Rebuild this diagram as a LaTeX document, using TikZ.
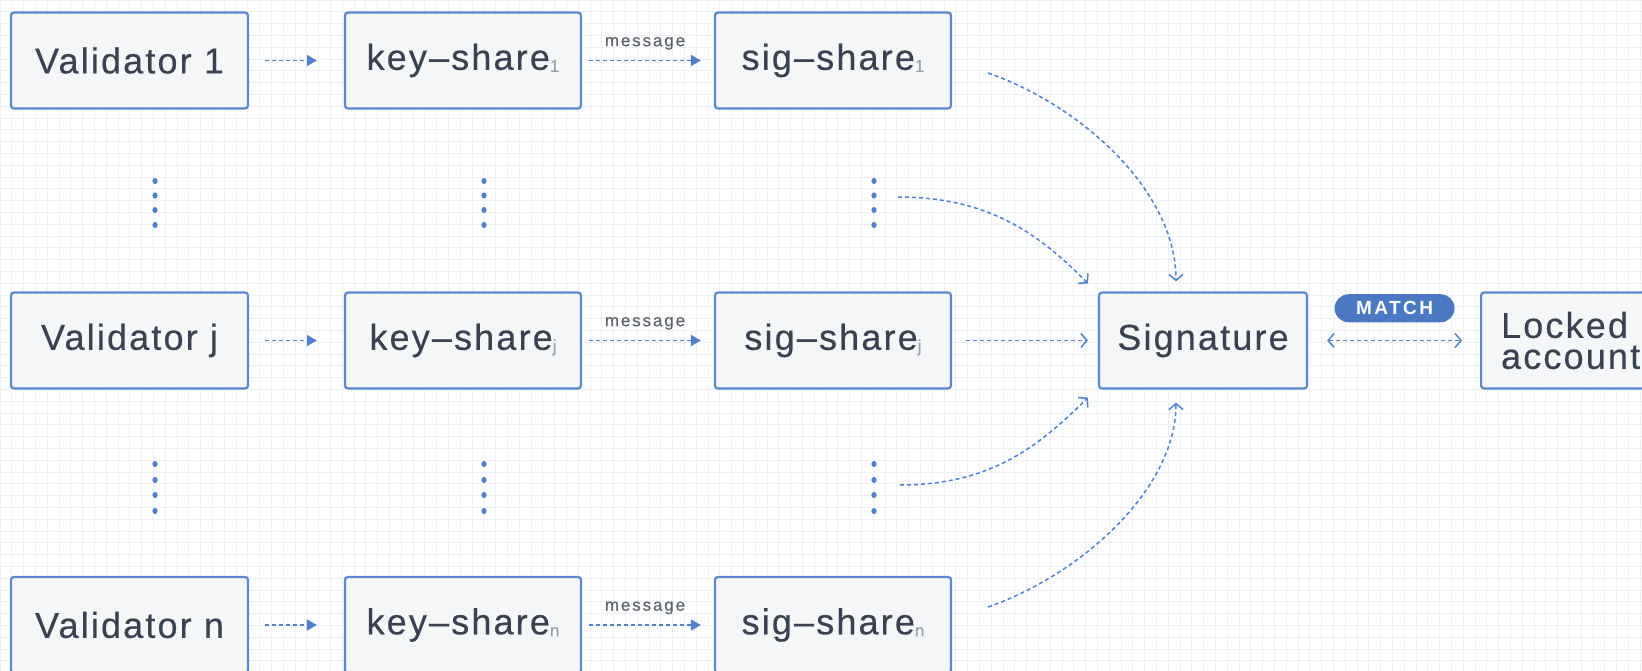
\documentclass[tikz,border=0pt]{standalone}
\usepackage{fontspec}
\setmainfont{Liberation Sans}
\newfontfamily\mainf{Liberation Sans}[LetterSpace=6, FakeBold=0.35]
\newfontfamily\msgf{Liberation Sans}[LetterSpace=11, FakeBold=0.3]
\newfontfamily\matchf{Liberation Sans}[LetterSpace=13]
\usetikzlibrary{arrows.meta}
\definecolor{boxblue}{HTML}{5A88CF}
\definecolor{boxfill}{HTML}{F5F6F8}
\definecolor{lineblue}{HTML}{4F80CC}
\definecolor{txt}{HTML}{3A4150}
\definecolor{subg}{HTML}{9AA0AA}
\definecolor{msgc}{HTML}{5F646E}
\definecolor{gridc}{HTML}{EDF0F5}
\definecolor{pillc}{HTML}{4A78C2}
\newcommand{\subidx}[1]{{\color{subg}\fontsize{17}{17}\selectfont\raisebox{-2pt}{#1}}}
\begin{document}
\begin{tikzpicture}[x=1pt,y=-1pt,
  box/.style={draw=boxblue, line width=2.2pt, fill=boxfill, rounded corners=3pt,
    minimum height=96pt, inner sep=0pt, text=txt, font=\mainf\fontsize{36}{31}\selectfont},
  vbox/.style={box, minimum width=237pt},
  sbox/.style={box, minimum width=236pt},
  flow/.style={draw=lineblue, line width=1.5pt, dash pattern=on 4pt off 3pt},
  tri/.style={flow, -{Triangle[length=10pt,width=11pt]}},
  open/.style={flow, -{Straight Barb[length=6pt,width=14pt]}},
  both/.style={flow, {Straight Barb[length=6pt,width=14pt]}-{Straight Barb[length=6pt,width=14pt]}},
  msg/.style={font=\msgf\fontsize{17}{17}\selectfont, text=msgc, inner sep=0pt},
  pill/.style={fill=pillc, rounded corners=14pt, minimum width=120pt, minimum height=28pt,
    inner sep=0pt, text=white, font=\matchf\bfseries\fontsize{19}{19}\selectfont},
  dotc/.style={fill=lineblue}
]
\useasboundingbox (0,0) rectangle (1642,671);
\fill[white] (0,0) rectangle (1642,671);
\draw[gridc, line width=0.8pt] (0,0) grid[step=11.8pt] (1642,671);

% row 1
\node[vbox] (v1) at (129.5,60.5) {Validator 1};
\node[sbox] (k1) at (463,60.5) {key\textendash share\subidx{1}};
\node[sbox] (s1) at (833,60.5) {sig\textendash share\subidx{1}};
% row j
\node[vbox] (vj) at (129.5,340.5) {Validator j};
\node[sbox] (kj) at (463,340.5) {key\textendash share\subidx{j}};
\node[sbox] (sj) at (833,340.5) {sig\textendash share\subidx{j}};
% row n
\node[vbox] (vn) at (129.5,625) {Validator n};
\node[sbox] (kn) at (463,625) {key\textendash share\subidx{n}};
\node[sbox] (sn) at (833,625) {sig\textendash share\subidx{n}};

\node[box, minimum width=208pt] (sig) at (1203,340.5) {Signature};
\node[box, anchor=west, align=left, text width=190pt, inner xsep=20pt] (lock) at (1480,340.5) {Locked\\account};

% vertical dots
\foreach \x in {155,484,874}{
  \foreach \y in {181,195.5,210,225,464,480,495,511}{
    \fill[dotc] (\x,\y) ellipse [x radius=2.6pt, y radius=3pt];
  }
}
\coordinate (ca) at (898,197);
\coordinate (cb) at (900,485);

% straight row arrows
\foreach \r in {1,j,n}{
  \draw[tri] ([xshift=16pt]v\r.east) -- ([xshift=-27pt]k\r.west);
  \draw[tri] ([xshift=7pt]k\r.east) -- node[msg, above=10pt] {message} ([xshift=-13pt]s\r.west);
}
\draw[open] ([xshift=14pt]sj.east) -- ([xshift=-10pt]sig.west);

% curved arrows
\draw[open] ([shift={(36,12.5)}]s1.east) .. controls (1080,105) and (1176,190) .. ([shift={(-27,-10)}]sig.north);
\draw[open] (ca) .. controls (990,197) and (1040,235) .. ([shift={(-10,-8)}]sig.north west);
\draw[open] (cb) .. controls (992,485) and (1040,445) .. ([shift={(-10,8)}]sig.south west);
\draw[open] ([shift={(36,-18)}]sn.east) .. controls (1080,575) and (1176,490) .. ([shift={(-27,13)}]sig.south);

% match
\draw[both] ([xshift=19pt]sig.east) -- node[pill, above=17.5pt] (match) {MATCH} ([xshift=-18pt]lock.west);
\end{tikzpicture}
\end{document}
